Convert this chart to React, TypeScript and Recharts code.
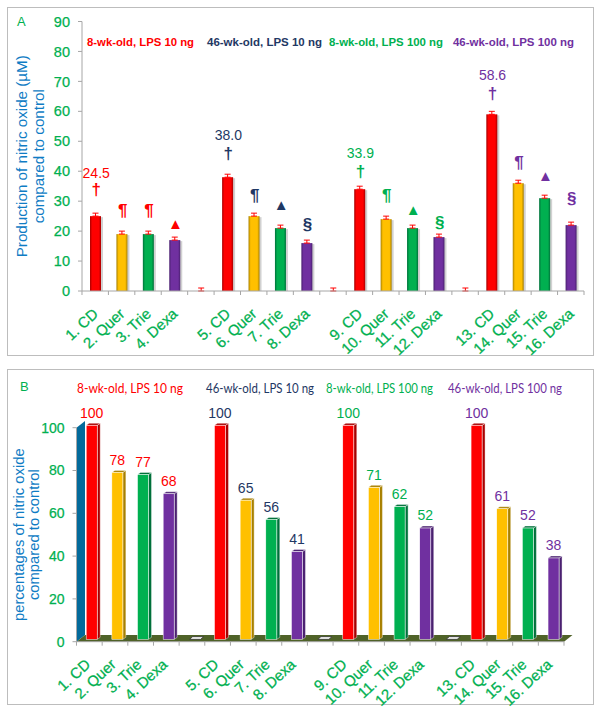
import React from "react";
import { Bar, ComposedChart, ErrorBar, Line, ReferenceArea, XAxis, YAxis, LabelList } from "recharts";

const categories = ["1. CD","2. Quer","3. Trie","4. Dexa","","5. CD","6. Quer","7. Trie","8. Dexa"," ","9. CD","10. Quer","11. Trie","12. Dexa","  ","13. CD","14. Quer","15. Trie","16. Dexa"];
const nitricOxide = [25,19,19,17,0,38,25,21,16,0,34,24,21,18,0,59,36,31,22];
const percentages = [100,78,77,68,0,100,65,56,41,0,100,71,62,52,0,100,61,52,38];
const symbols = ["†","¶","¶","▲","","†","¶","▲","§","","†","¶","▲","§","","†","¶","▲","§"];
const symbolLevels = [34,27,27,22.5,null,46,32,29,22.3,null,40,32,27.3,23,null,66,43,38.5,31];
const headlineValues = ["24.5","","","","","38.0","","","","","33.9","","","","","58.6","","",""];
const headlineLevels = [39.4,null,null,null,null,52,null,null,null,null,46,null,null,null,null,72,null,null,null];
const errorUp = 1;
const groupTitles = ["8-wk-old, LPS 10 ng","46-wk-old, LPS 10 ng","8-wk-old, LPS 100 ng","46-wk-old, LPS 100 ng"];
const ticksA = [0,10,20,30,40,50,60,70,80,90];
const ticksB = [0,20,40,60,80,100];

const RED = "#FF0000", NAVY = "#1F3864", GREEN = "#00B050", PURPLE = "#7030A0", BLUE = "#0F7CC4";
const groupColors = [RED, NAVY, GREEN, PURPLE];
const barColors = [RED, "#FFC000", GREEN, PURPLE];
const barDark = ["#A80000", "#A88000", "#00703A", "#4A2070"];
const SANS = "'Liberation Sans', Arial, sans-serif";

const dataA = categories.map((c, i) => ({ c, v: nitricOxide[i], err: [0, errorUp], sym: symbolLevels[i], head: headlineLevels[i] }));
const dataB = categories.map((c, i) => ({ c, v: percentages[i] }));

const groupOf = (i: number) => Math.min(3, Math.floor(i / 5));

function BarA(p: any) {
  const { x, y, width, height, index } = p;
  if (!height || height <= 0) return null;
  const k = index % 5;
  return (
    <g>
      <rect x={x + 1} y={y + 1} width={width + 1} height={height - 1} fill="#000" opacity={0.18} />
      <rect x={x} y={y} width={width} height={height} fill={`url(#gA${k})`} />
    </g>
  );
}

function BarB(p: any) {
  const { x, y, width, height, index } = p;
  const k = index % 5;
  const dx = 2.7, dy = 2.4;
  if (!height || height <= 0) {
    const cx = x + width / 2 + 5, by = y - 2.4;
    return <polygon points={`${cx - 7},${by} ${cx + 4},${by} ${cx + 7},${by - 2.6} ${cx - 4},${by - 2.6}`} fill="#fff" stroke="#333" strokeWidth={0.8} />;
  }
  const l = x + dx, r = x + dx + width, t = y - dy, b = y + height - dy;
  return (
    <g>
      <polygon points={`${r},${t} ${r + 3},${t - 2} ${r + 3},${b - 2} ${r},${b}`} fill={barDark[k]} stroke="#fff" strokeWidth={0.4} />
      <polygon points={`${l},${t} ${l + 3},${t - 2} ${r + 3},${t - 2} ${r},${t}`} fill={barDark[k]} stroke="#fff" strokeWidth={0.4} />
      <rect x={l} y={t} width={width} height={height} fill={barColors[k]} stroke="#fff" strokeWidth={0.5} />
    </g>
  );
}

const SymbolDot = (p: any) => {
  const { cx, cy, index } = p;
  const s = symbols[index];
  if (cy == null || !s) return <g key={index} />;
  return (
    <text key={index} x={cx + 1} y={cy} textAnchor="middle" dominantBaseline="central" fontFamily={SANS}
      fontSize={s === "▲" ? 15 : 17} fontWeight={s === "▲" ? 400 : 700} fill={groupColors[groupOf(index)]}>
      {s}
    </text>
  );
};

const HeadDot = (p: any) => {
  const { cx, cy, index } = p;
  if (cy == null || !headlineValues[index]) return <g key={index} />;
  return (
    <text key={index} x={cx + 1} y={cy} textAnchor="middle" dominantBaseline="central" fontFamily={SANS} fontSize={14} fill={groupColors[groupOf(index)]}>
      {headlineValues[index]}
    </text>
  );
};

const makeXTick = (step: number, last: number, dx: number, dy: number) => (p: any) => {
  const { x, y, payload, index } = p;
  const i = payload?.index ?? index;
  const tx = x + dx, ty = y + dy;
  return (
    <g>
      <line x1={x - step / 2} x2={x - step / 2} y1={y - 8} y2={y - 4} stroke="#a6a6a6" />
      {i === last && <line x1={x + step / 2} x2={x + step / 2} y1={y - 8} y2={y - 4} stroke="#a6a6a6" />}
      <text x={tx} y={ty} transform={`rotate(-43 ${tx} ${ty})`} textAnchor="end" fontFamily={SANS} fontSize={15} fill={GREEN} stroke={GREEN} strokeWidth={0.25}>
        {String(payload.value).trim()}
      </text>
    </g>
  );
};

const TitleLabel = ({ viewBox, lines, xs, size }: any) => {
  const cy = viewBox.y + viewBox.height / 2;
  return (
    <g>
      {lines.map((t: string, i: number) => (
        <text key={i} x={xs[i]} y={cy} transform={`rotate(-90 ${xs[i]} ${cy})`} textAnchor="middle" dominantBaseline="central" fontFamily={SANS} fontSize={size} fill={BLUE}>
          {t}
        </text>
      ))}
    </g>
  );
};

const Backdrop = (p: any) => {
  const { x, y, width, height } = p;
  const b = y + height, ex = 8.5, ey = 6.7;
  return (
    <g>
      <polygon points={`${x},${y} ${x + ex},${y - ey} ${x + ex},${b - ey} ${x},${b}`} fill="#036A9B" />
      <polygon points={`${x},${b} ${x + ex},${b - ey} ${x + width + ex},${b - ey} ${x + width},${b}`} fill="#4F6228" />
    </g>
  );
};

const PercentLabel = (p: any) => {
  const { x, y, width, value, index } = p;
  if (!value) return null;
  return (
    <text x={x + width / 2 + 2.7} y={y - 15} textAnchor="middle" dominantBaseline="central" fontFamily={SANS} fontSize={14} fill={index < 4 ? RED : groupColors[groupOf(index)]}>
      {value}
    </text>
  );
};

const headA = [[87, 107], [207, 115], [329, 114], [453, 121]];
const headB = [[77, 106], [206, 108], [326, 107], [448, 114]];

const Panel = ({ top, height }: { top: number; height: number }) => (
  <div style={{ position: "absolute", left: 7, top, width: 587, height, border: "1.5px solid #bdbdbd", boxSizing: "border-box" }} />
);

const Head = ({ x, y, w, color, text, bold, font, size }: any) => (
  <svg style={{ position: "absolute", left: 0, top: y - 10, overflow: "visible" }} width={1} height={20}>
    <text x={x} y={10} dominantBaseline="central" textLength={w} lengthAdjust="spacingAndGlyphs" fontFamily={font} fontSize={size} fontWeight={bold ? 700 : 400} fill={color}>{text}</text>
  </svg>
);

export default function App() {
  return (
    <div style={{ position: "absolute", left: 0, top: 0, width: 600, height: 711, background: "#fff", overflow: "hidden" }}>
      <Panel top={7} height={349} />
      <Panel top={369} height={336} />

      <div style={{ position: "absolute", left: 0, top: 0 }}>
        <ComposedChart width={600} height={360} data={dataA} barCategoryGap={0} margin={{ top: 21.5, right: 16, bottom: 39, left: 22 }}>
          <defs>
            {barColors.map((c, i) => (
              <linearGradient key={i} id={`gA${i}`} x1="0" x2="1" y1="0" y2="0">
                <stop offset="0" stopColor={barDark[i]} />
                <stop offset="0.2" stopColor={c} />
                <stop offset="0.8" stopColor={c} />
                <stop offset="1" stopColor={barDark[i]} />
              </linearGradient>
            ))}
          </defs>
          <XAxis dataKey="c" interval={0} height={30} tickLine={false} axisLine={{ stroke: "#a6a6a6" }} tick={makeXTick(26.45, 18, 4, 16)} />
          <YAxis width={60} domain={[0, 90]} ticks={ticksA} tickSize={4} tickMargin={8} tickLine={{ stroke: "#a6a6a6" }} axisLine={{ stroke: "#a6a6a6" }}
            tick={{ fill: GREEN, stroke: GREEN, strokeWidth: 0.25, fontSize: 14.5, fontFamily: SANS }}
            label={<TitleLabel lines={["Production of nitric oxide (µM)", "compared to control"]} xs={[21, 38]} size={15.2} />} />
          <Bar dataKey="v" barSize={11} shape={BarA} isAnimationActive={false}>
            <ErrorBar dataKey="err" direction="y" width={3} stroke={RED} strokeWidth={1} isAnimationActive={false} />
          </Bar>
          <Line dataKey="sym" stroke="none" dot={SymbolDot} activeDot={false} isAnimationActive={false} connectNulls={false} />
          <Line dataKey="head" stroke="none" dot={HeadDot} activeDot={false} isAnimationActive={false} connectNulls={false} />
        </ComposedChart>
      </div>

      <div style={{ position: "absolute", left: 0, top: 360 }}>
        <ComposedChart width={600} height={351} data={dataB} barCategoryGap={0} margin={{ top: 67.7, right: 36, bottom: 39.3, left: 16.5 }}>
          <ReferenceArea y1={0} y2={100} shape={Backdrop} ifOverflow="visible" />
          <XAxis dataKey="c" interval={0} height={30} tickLine={false} axisLine={{ stroke: "#a6a6a6" }} tick={makeXTick(25.66, 18, 2, 16)} />
          <YAxis width={60} domain={[0, 100]} ticks={ticksB} tickSize={4} tickMargin={8} tickLine={{ stroke: "#a6a6a6" }} axisLine={{ stroke: "#a6a6a6" }}
            tick={{ fill: GREEN, stroke: GREEN, strokeWidth: 0.25, fontSize: 14, fontFamily: SANS }}
            label={<TitleLabel lines={["percentages of nitric oxide", "compared to control"]} xs={[19, 34.5]} size={14.8} />} />
          <Bar dataKey="v" barSize={11} shape={BarB} isAnimationActive={false}>
            <LabelList dataKey="v" content={PercentLabel} />
          </Bar>
        </ComposedChart>
      </div>

      <svg style={{ position: "absolute", left: 0, top: 0 }} width={600} height={711}>
        <text x={17} y={21} dominantBaseline="central" fontFamily={SANS} fontSize={13} fill={GREEN}>A</text>
        <text x={20} y={386} dominantBaseline="central" fontFamily={SANS} fontSize={13} fill={GREEN}>B</text>
      </svg>
      {groupTitles.map((t, i) => (
        <Head key={"a" + i} x={headA[i][0]} w={headA[i][1]} y={42} color={groupColors[i]} text={t} bold font={SANS} size={11} />
      ))}
      {groupTitles.map((t, i) => (
        <Head key={"b" + i} x={headB[i][0]} w={headB[i][1]} y={388} color={groupColors[i]} text={t} font="Lato, sans-serif" size={12.5} />
      ))}
    </div>
  );
}
